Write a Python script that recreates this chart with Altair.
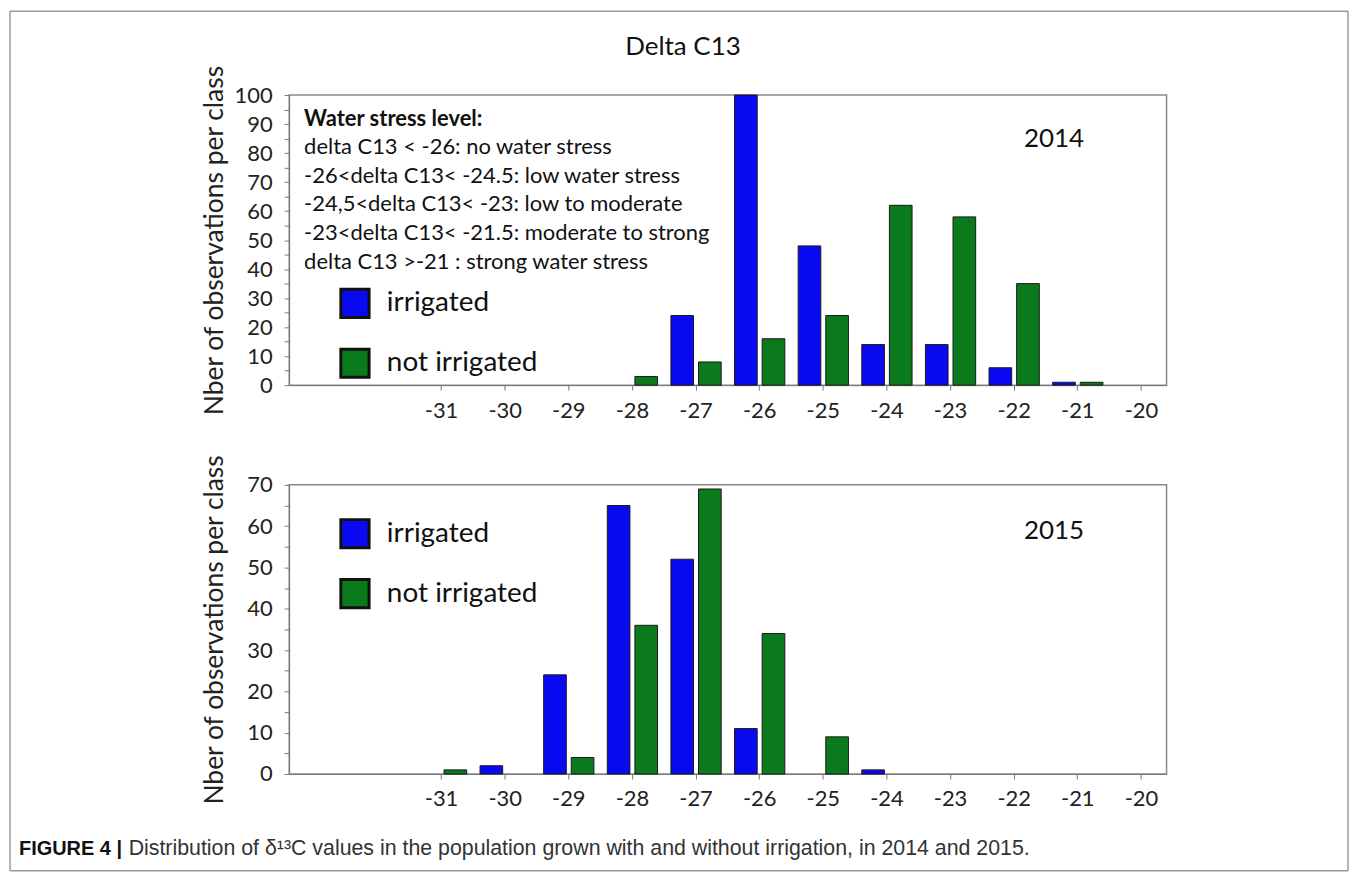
import altair as alt
import pandas as pd

# ---- data ----
classes = [-31, -30, -29, -28, -27, -26, -25, -24, -23, -22, -21, -20]
irrigated_2014 = [0, 0, 0, 0, 24, 100, 48, 14, 14, 6, 1, 0]
not_irrigated_2014 = [0, 0, 0, 3, 8, 16, 24, 62, 58, 35, 1, 0]
irrigated_2015 = [0, 2, 24, 65, 52, 11, 0, 1, 0, 0, 0, 0]
not_irrigated_2015 = [1, 0, 4, 36, 69, 34, 9, 0, 0, 0, 0, 0]

series_names = ["irrigated", "not irrigated"]
series_colors = ["#0a0af2", "#0b7a1c"]
x_domain = [-33, -32] + classes

stress_title = "Water stress level:"
stress_lines = [
    "delta C13 < -26: no water stress",
    "-26<delta C13< -24.5: low water stress",
    "-24,5<delta C13< -23: low to moderate",
    "-23<delta C13< -21.5: moderate to strong",
    "delta C13 >-21 : strong water stress",
]
main_title = "Delta C13"
y_title = "Nber of observations per class"
caption_bold = "FIGURE 4 |"
caption_text = "Distribution of \u03b4\u00b9\u00b3C values in the population grown with and without irrigation, in 2014 and 2015."


def long_df(irr, notirr):
    rows = []
    for c, a, b in zip(classes, irr, notirr):
        rows.append({"cls": c, "series": series_names[0], "count": a})
        rows.append({"cls": c, "series": series_names[1], "count": b})
    return pd.DataFrame(rows)


df14 = long_df(irrigated_2014, not_irrigated_2014)
df15 = long_df(irrigated_2015, not_irrigated_2015)
one = pd.DataFrame({"k": [0]})

FONT = "Lato"
CAPFONT = "Liberation Sans"
W, H1, H2 = 880, 291, 290


def panel(df, ymax, height, legend_y):
    bars = (
        alt.Chart(df)
        .transform_filter("datum.count > 0")
        .mark_bar(stroke="#1a1a1a", strokeWidth=1)
        .encode(
            x=alt.X(
                "cls:O",
                scale=alt.Scale(domain=x_domain, paddingInner=0.21, paddingOuter=0),
                axis=alt.Axis(
                    values=classes, title=None, labelAngle=0, tickSize=5,
                    labelFont=FONT, labelFontSize=22, labelColor="#222",
                    labelPadding=10, domainColor="#777", tickColor="#777",
                ),
            ),
            xOffset=alt.XOffset(
                "series:N", scale=alt.Scale(domain=series_names, paddingInner=0.18)
            ),
            y=alt.Y(
                "count:Q",
                scale=alt.Scale(domain=[0, ymax], nice=False),
                axis=alt.Axis(
                    values=list(range(0, ymax + 1, 5)),
                    labelExpr="datum.value % 10 == 0 ? datum.label : ''",
                    labelOverlap=False, grid=False, tickSize=5,
                    labelFont=FONT, labelFontSize=22, labelColor="#222",
                    labelPadding=12, domainColor="#777", tickColor="#777",
                    title=y_title, titleFont=FONT, titleFontSize=26.5,
                    titleFontWeight="normal", titleColor="#222",
                    titleX=-75, titleY=height / 2, titleAngle=-90,
                    titleBaseline="middle", titleAlign="center",
                ),
            ),
            color=alt.Color(
                "series:N",
                scale=alt.Scale(domain=series_names, range=series_colors),
                legend=alt.Legend(
                    orient="none", legendX=50, legendY=legend_y, title=None,
                    symbolType="square", symbolSize=800, symbolStrokeWidth=3,
                    symbolStrokeColor="#111", labelFont=FONT, labelFontSize=28,
                    labelColor="#111", labelOffset=16, rowPadding=18, padding=0,
                ),
            ),
        )
        .properties(width=W, height=height)
    )
    return bars


def year_text(label, y):
    return alt.Chart(one).mark_text(
        align="left", baseline="alphabetic", font=FONT, fontSize=26, color="#111"
    ).encode(x=alt.value(737), y=alt.value(y), text=alt.value(label))


top_bars = panel(df14, 100, H1, 193)
bot_bars = panel(df15, 70, H2, 33)

title_mark = alt.Chart(one).mark_text(
    align="center", baseline="alphabetic", font=FONT, fontSize=26, color="#111"
).encode(x=alt.value(395), y=alt.value(-40), text=alt.value(main_title))

stress_head = alt.Chart(one).mark_text(
    align="left", baseline="alphabetic", font=FONT, fontSize=22,
    fontWeight="bold", color="#111"
).encode(x=alt.value(15), y=alt.value(31), text=alt.value(stress_title))

stress_body = alt.Chart(one).mark_text(
    align="left", baseline="alphabetic", font=FONT, fontSize=22,
    lineHeight=28.75, color="#111"
).encode(x=alt.value(15), y=alt.value(59), text=alt.value(stress_lines))

frame_color = "#9a9a9a"
frame_top = alt.Chart(one).mark_rule(color=frame_color, strokeWidth=1.5).encode(
    x=alt.value(-280), x2=alt.value(1062), y=alt.value(-84))
frame_bottom = alt.Chart(one).mark_rule(color=frame_color, strokeWidth=1.5).encode(
    x=alt.value(-280), x2=alt.value(1062), y=alt.value(778))
frame_left = alt.Chart(one).mark_rule(color=frame_color, strokeWidth=1.5).encode(
    x=alt.value(-280), y=alt.value(-84), y2=alt.value(778))
frame_right = alt.Chart(one).mark_rule(color=frame_color, strokeWidth=1.5).encode(
    x=alt.value(1062), y=alt.value(-84), y2=alt.value(778))

cap_bold = alt.Chart(one).mark_text(
    align="left", baseline="alphabetic", font=CAPFONT, fontSize=20,
    fontWeight="bold", color="#111"
).encode(x=alt.value(-271), y=alt.value(371), text=alt.value(caption_bold))
cap_text = alt.Chart(one).mark_text(
    align="left", baseline="alphabetic", font=CAPFONT, fontSize=21.4,
    color="#333"
).encode(x=alt.value(-161), y=alt.value(371), text=alt.value(caption_text))

top = alt.layer(
    top_bars, year_text("2014", 52), title_mark, stress_head, stress_body,
    frame_top, frame_bottom, frame_left, frame_right,
)
bottom = alt.layer(bot_bars, year_text("2015", 54), cap_bold, cap_text)

chart = (
    alt.vconcat(top, bottom, spacing=100, bounds="flush")
    .resolve_scale(color="independent")
    .resolve_legend(color="independent")
    .properties(padding=0, background="white")
    .configure_view(stroke="#8a8a8a", strokeWidth=1.5)
)

chart.save("out.html", embed_options={"renderer": "svg", "actions": False})
